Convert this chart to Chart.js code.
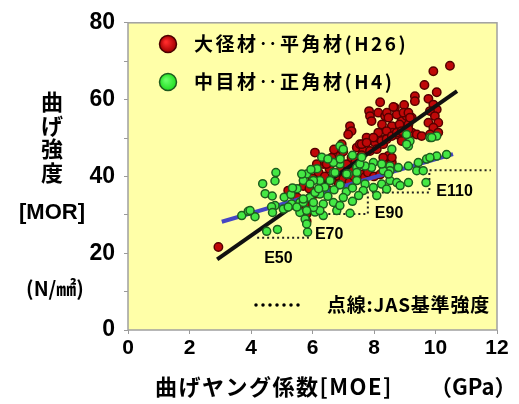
<!DOCTYPE html>
<html>
<head>
<meta charset="utf-8">
<script src="https://cdn.jsdelivr.net/npm/chart.js@4.4.1/dist/chart.umd.min.js"></script>
<style>
  html, body { margin: 0; padding: 0; background: #fff; }
  #wrap { width: 519px; height: 404px; }
</style>
</head>
<body>
<div id="wrap"><canvas id="morChart" width="519" height="404"></canvas></div>
<script>
// 大径材・平角材 (H26)  MOE [GPa] / MOR [N/mm2]
const largeMoe = [2.94, 5.21, 5.81, 5.81, 5.5, 5.7, 5.9, 6.0, 6.1, 6.2, 6.3, 6.4, 6.5, 6.55, 6.6, 6.7, 6.8, 6.85, 6.9, 7.0,
  7.1, 7.2, 7.3, 7.35, 7.5, 7.6, 7.7, 7.8, 8.0, 8.2, 6.08, 6.35, 6.14, 6.46, 6.62, 6.89, 6.95, 7.11, 7.27, 7.44,
  7.22, 7.22, 7.54, 7.65, 7.76, 7.87, 8.03, 8.09, 8.09, 8.3, 8.36, 8.58, 8.74, 8.79, 8.9, 8.58, 8.41, 8.3, 8.58, 8.46,
  8.58, 8.3, 7.84, 7.87, 7.92, 8.14, 8.36, 8.68, 8.74, 8.2, 8.98, 9.06, 9.23, 9.12, 9.06, 9.23, 9.39, 9.06, 8.9, 9.33,
  9.33, 9.64, 9.93, 10.47, 10.04, 9.77, 9.93, 10.04, 9.82, 9.98, 9.77, 10.09, 9.93, 9.82, 10.09, 9.55, 8.26, 8.42, 8.47, 8.63,
  8.96, 9.12, 9.17, 8.83, 8.61, 8.41, 8.14, 7.98, 7.27, 7.16, 7.6, 7.76, 8.25, 8.41, 8.58, 8.74, 8.9, 9.12, 5.27, 5.76,
  6.83, 7.4, 7.6, 7.0, 6.7];
const largeMor = [21.6, 36.3, 28.3, 30.2, 34.5, 37.5, 36.8, 39.5, 35.5, 41.0, 37.8, 40.0, 36.5, 42.0, 39.0, 40.8, 40.2, 38.0, 41.5, 39.3,
  40.6, 38.5, 41.8, 40.0, 39.5, 40.5, 39.8, 41.0, 40.0, 40.5, 46.2, 43.2, 43.2, 43.2, 44.9, 45.3, 48.4, 43.2, 44.9, 47.5,
  51.8, 53.1, 48.4, 46.6, 50.1, 46.6, 48.8, 47.1, 50.1, 48.4, 49.7, 50.9, 50.9, 52.7, 54.4, 53.1, 44.5, 43.6, 43.6, 45.3,
  44.9, 44.9, 57.0, 55.7, 54.4, 56.6, 55.7, 57.9, 56.1, 59.3, 58.6, 55.7, 55.3, 53.5, 51.8, 51.4, 50.9, 50.1, 49.2, 60.9,
  59.6, 63.8, 67.4, 68.8, 61.9, 60.2, 58.7, 57.4, 57.0, 55.7, 54.0, 54.0, 52.7, 50.9, 51.4, 50.5, 53.5, 56.6, 55.3, 58.1,
  56.6, 56.6, 55.3, 53.5, 51.4, 51.8, 51.4, 50.1, 51.8, 50.9, 48.4, 48.8, 49.2, 49.7, 50.5, 51.4, 51.8, 52.3, 32.4, 32.6,
  32.4, 44.0, 45.5, 46.5, 47.0];

// 中目材・正角材 (H4)
const mediumMoe = [3.7, 3.91, 4.13, 3.97, 4.81, 4.78, 4.38, 4.46, 4.69, 5.08, 4.78, 5.05, 5.32, 5.59, 4.67, 4.7, 4.51, 4.86, 5.84, 5.21,
  5.59, 7.22, 6.79, 6.35, 6.08, 5.76, 5.81, 5.49, 6.89, 7.0, 9.12, 9.17, 9.06, 9.82, 10.04, 9.71, 10.04, 9.44, 9.12, 8.79,
  8.52, 8.52, 8.3, 8.25, 7.98, 7.92, 7.71, 7.44, 7.44, 7.16, 6.89, 6.68, 6.68, 6.57, 6.24, 6.03, 5.81, 5.7, 7.44, 7.71,
  7.65, 7.98, 8.25, 8.52, 8.41, 8.74, 8.47, 8.09, 8.85, 9.39, 9.6, 9.12, 9.69, 5.92, 6.24, 6.35, 6.24, 6.68, 6.89, 6.03,
  5.7, 5.81, 5.65, 5.92, 6.08, 5.7, 6.03, 7.54, 8.58, 9.06, 9.88, 9.82, 10.36, 6.73, 7.11, 6.4, 6.7, 6.9, 7.1, 7.3,
  6.5, 7.0, 7.3, 7.5, 6.2, 5.5, 5.3, 5.35, 6.3, 6.5, 6.9, 7.3, 6.15, 5.95, 7.6];
const mediumMor = [29.8, 30.9, 29.5, 31.1, 41.0, 38.8, 38.1, 35.5, 34.9, 34.6, 32.4, 31.5, 32.8, 33.2, 32.1, 30.6, 25.7, 26.2, 25.5, 32.0,
  30.6, 30.4, 31.1, 29.8, 30.7, 28.9, 27.6, 32.0, 47.9, 47.1, 47.9, 49.2, 50.9, 50.1, 50.5, 44.5, 45.3, 43.6, 42.7, 42.3,
  42.7, 41.5, 41.5, 43.2, 43.6, 42.3, 42.7, 42.3, 41.0, 40.6, 43.2, 43.6, 41.0, 38.9, 38.9, 38.9, 40.6, 38.9, 38.9, 38.0,
  36.3, 37.1, 38.0, 38.9, 36.7, 38.4, 40.6, 35.0, 37.6, 41.5, 41.5, 38.4, 38.4, 34.5, 35.4, 32.8, 31.1, 33.2, 32.4, 31.9,
  33.2, 31.1, 40.6, 38.0, 35.8, 34.1, 33.2, 43.2, 47.1, 48.4, 50.1, 44.9, 45.7, 41.0, 40.6, 37.2, 36.5, 37.8, 36.0, 37.0,
  34.8, 34.5, 33.5, 35.0, 36.8, 36.8, 35.3, 37.0, 45.0, 44.5, 44.5, 45.5, 42.0, 41.8, 45.0];

// 回帰直線の端点
const largeFitMoe = [2.9, 10.7];
const largeFitMor = [18.4, 62.2];
const mediumFitMoe = [3.05, 10.57];
const mediumFitMor = [28.2, 45.8];

// JAS 基準強度 (機械等級)
const jasGrade = ['E50', 'E70', 'E90', 'E110'];
const jasMoeFrom = [4.2, 5.85, 7.8, 9.8];
const jasMoeTo = [5.85, 7.8, 9.8, 11.8];
const jasMor = [24.0, 30.2, 35.8, 41.6];

const legendText = ['大径材‥平角材(H26)', '中目材‥正角材(H4)'];

const jpFont = '"Noto Sans CJK JP", sans-serif';

var jasSteps = [];
jasGrade.forEach((g, i) => {
  jasSteps.push({ x: jasMoeFrom[i], y: jasMor[i] });
  jasSteps.push({ x: jasMoeTo[i], y: jasMor[i] });
});

function ball(ctx, x, y, r, inner, outer, edge) {
  const g = ctx.createRadialGradient(x - r * 0.25, y - r * 0.25, 1, x, y, r);
  g.addColorStop(0, inner);
  g.addColorStop(1, outer);
  ctx.beginPath();
  ctx.arc(x, y, r, 0, Math.PI * 2);
  ctx.fillStyle = g;
  ctx.fill();
  ctx.lineWidth = 1.5;
  ctx.strokeStyle = edge;
  ctx.stroke();
}

const decorPlugin = {
  id: 'decor',
  beforeDraw(chart) {
    const { ctx, chartArea: a } = chart;
    ctx.save();
    ctx.fillStyle = '#ffffa8';
    ctx.fillRect(a.left, a.top, a.right - a.left, a.bottom - a.top);
    ctx.restore();
  },
  afterDraw(chart) {
    const { ctx, chartArea: a } = chart;
    const xs = chart.scales.x, ys = chart.scales.y;
    ctx.save();
    // frame
    ctx.strokeStyle = '#a0a0a0';
    ctx.lineWidth = 1.5;
    ctx.strokeRect(a.left, a.top, a.right - a.left, a.bottom - a.top);

    // legend
    ball(ctx, 168, 44, 8.5, '#ff2a2a', '#a00000', '#4a0000');
    ball(ctx, 168, 82, 8.5, '#66ff66', '#22dd22', '#1e5a1e');
    ctx.fillStyle = '#000';
    ctx.textBaseline = 'middle';
    ctx.textAlign = 'left';
    ctx.font = 'bold 19px ' + jpFont;
    ctx.letterSpacing = '2.5px';
    ctx.fillText(legendText[0], 194, 44);
    ctx.fillText(legendText[1], 194, 82);

    // JAS note
    ctx.letterSpacing = '0px';
    ctx.beginPath();
    ctx.setLineDash([0, 7]);
    ctx.lineCap = 'round';
    ctx.lineWidth = 3.5;
    ctx.strokeStyle = '#000';
    ctx.moveTo(256, 305);
    ctx.lineTo(300, 305);
    ctx.stroke();
    ctx.setLineDash([]);
    ctx.font = 'bold 19px ' + jpFont;
    ctx.letterSpacing = '0.8px';
    ctx.fillText('点線:JAS基準強度', 327, 305);
    ctx.letterSpacing = '0px';

    // grade labels
    ctx.font = 'bold 16px "Liberation Sans", Arial, sans-serif';
    jasGrade.forEach((g, i) => {
      ctx.fillText(g, xs.getPixelForValue(jasMoeFrom[i]) + 7, ys.getPixelForValue(jasMor[i]) + 21);
    });

    // y title
    ctx.textAlign = 'center';
    ctx.font = 'bold 22px ' + jpFont;
    ['曲', 'げ', '強', '度'].forEach((c, i) => ctx.fillText(c, 52, 102 + i * 23.5));
    ctx.font = 'bold 22px "Liberation Sans", Arial, sans-serif';
    ctx.fillText('[MOR]', 52, 213);
    ctx.font = 'bold 20px ' + jpFont;
    ctx.fillText('(N/㎟)', 55, 288);

    // x title
    ctx.textAlign = 'left';
    ctx.font = 'bold 22px ' + jpFont;
    ctx.letterSpacing = '1.5px';
    ctx.fillText('曲げヤング係数[MOE]', 155, 387);
    ctx.letterSpacing = '0px';
    ctx.fillText('（GPa）', 430, 387);
    ctx.restore();
  }
};

var ctx = document.getElementById('morChart').getContext('2d');
var chart = new Chart(ctx, {
  type: 'scatter',
  data: {
    datasets: [
      {
        label: legendText[1],
        data: mediumMoe.map((x, i) => ({ x: x, y: mediumMor[i] })),
        pointRadius: 4,
        backgroundColor: '#44e844',
        borderColor: '#1e5e1e',
        borderWidth: 1.5,
        order: 0,
      },
      {
        type: 'line',
        label: 'fit H4',
        data: mediumFitMoe.map((x, i) => ({ x: x, y: mediumFitMor[i] })),
        borderColor: '#4646c4',
        borderWidth: 4,
        pointRadius: 0,
        fill: false,
        order: 1,
      },
      {
        type: 'line',
        label: 'fit H26',
        data: largeFitMoe.map((x, i) => ({ x: x, y: largeFitMor[i] })),
        borderColor: '#111111',
        borderWidth: 4,
        pointRadius: 0,
        fill: false,
        order: 2,
      },
      {
        label: legendText[0],
        data: largeMoe.map((x, i) => ({ x: x, y: largeMor[i] })),
        pointRadius: 4.2,
        backgroundColor: '#c00808',
        borderColor: '#560000',
        borderWidth: 1.5,
        order: 3,
      },
      {
        type: 'line',
        label: 'JAS',
        data: jasSteps,
        borderColor: '#222',
        borderWidth: 2,
        borderDash: [2, 3],
        pointRadius: 0,
        fill: false,
        order: 4,
      },
    ],
  },
  options: {
    responsive: false,
    animation: false,
    layout: { padding: { top: 21, right: 22, left: 0, bottom: 0 } },
    scales: {
      x: {
        type: 'linear',
        min: 0,
        max: 12,
        ticks: {
          stepSize: 2,
          color: '#000',
          padding: 2,
          maxRotation: 0,
          font: { family: '"Liberation Sans", Arial, sans-serif', size: 21, weight: 'bold' },
        },
        grid: { drawOnChartArea: false, tickLength: 4, color: '#999' },
        border: { display: false },
        afterFit: (s) => { s.height = 74; },
      },
      y: {
        min: 0,
        max: 80,
        ticks: {
          stepSize: 10,
          autoSkip: false,
          color: '#000',
          padding: 9,
          callback: (v) => (v % 20 === 0 ? v : ''),
          font: { family: '"Liberation Sans", Arial, sans-serif', size: 23, weight: 'bold' },
        },
        grid: { drawOnChartArea: false, tickLength: 4, color: '#999' },
        border: { display: false },
        afterFit: (s) => { s.width = 128; },
      },
    },
    plugins: {
      legend: { display: false },
      tooltip: { enabled: false },
    },
  },
  plugins: [decorPlugin],
});
</script>
</body>
</html>
